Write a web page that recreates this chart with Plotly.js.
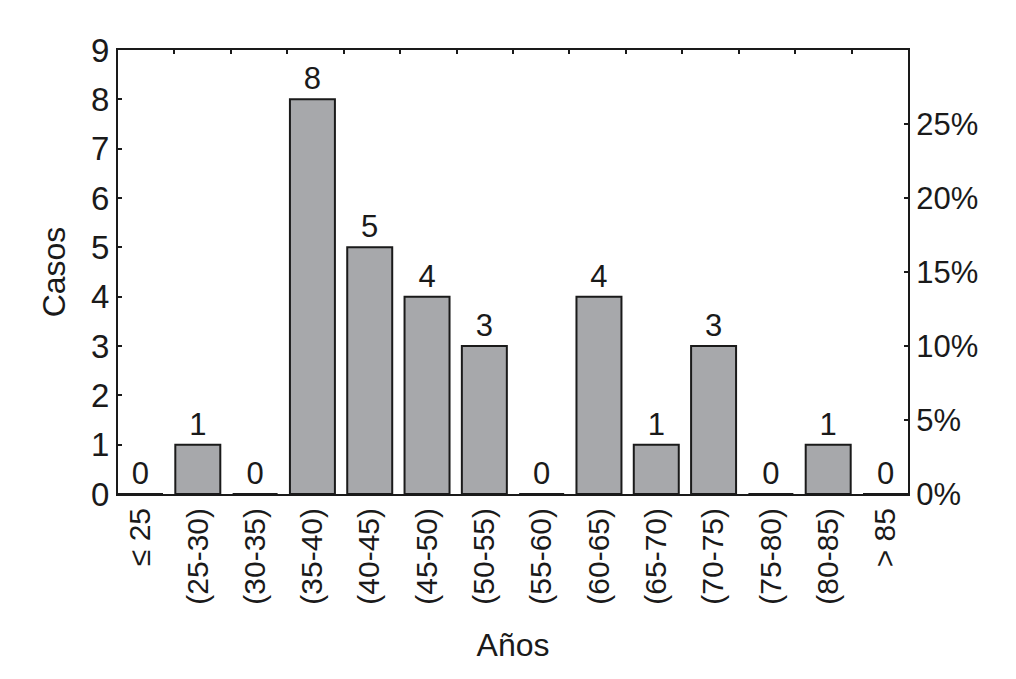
<!DOCTYPE html>
<html>
<head>
<meta charset="utf-8">
<script src="https://cdn.plot.ly/plotly-3.0.1.min.js"></script>
<style>
  html, body { margin: 0; padding: 0; background: #fff; }
  #chart { width: 1016px; height: 679px; }
</style>
</head>
<body>
<div id="chart"></div>
<script>
const AGE_GROUPS = ["≤ 25", "(25-30)", "(30-35)", "(35-40)", "(40-45)", "(45-50)", "(50-55)",
                    "(55-60)", "(60-65)", "(65-70)", "(70-75)", "(75-80)", "(80-85)", "> 85"];
const CASES = [0, 1, 0, 8, 5, 4, 3, 0, 4, 1, 3, 0, 1, 0];
const PCT_TICKS = [0, 5, 10, 15, 20, 25];

const total = CASES.reduce((a, b) => a + b, 0);
const pct = CASES.map(v => v / total * 100);

const FONT = "Liberation Sans, Arial, sans-serif";
const INK = "#1a1a1a";

// bars touch the frame at both ends, so the category range is trimmed by half a gap
const GAP = 0.215;
const n = AGE_GROUPS.length;

const traces = [
  {
    type: 'bar',
    x: AGE_GROUPS,
    y: CASES,
    text: CASES.map(String),
    textposition: 'outside',
    cliponaxis: false,
    textfont: { family: FONT, size: 31, color: INK },
    marker: { color: '#a7a8ab', line: { color: INK, width: 2 } },
    hoverinfo: 'x+y'
  },
  // invisible companion trace that carries the percent axis and the top frame
  {
    type: 'scatter',
    mode: 'markers',
    x: AGE_GROUPS,
    y: pct,
    xaxis: 'x2',
    yaxis: 'y2',
    marker: { opacity: 0 },
    hoverinfo: 'skip',
    showlegend: false
  }
];

const layout = {
  width: 1016,
  height: 679,
  margin: { t: 50, r: 108, b: 185, l: 118 },
  paper_bgcolor: '#fff',
  plot_bgcolor: '#fff',
  showlegend: false,
  bargap: GAP,
  font: { family: FONT, color: INK },
  xaxis: {
    type: 'category',
    range: [-0.5 + GAP / 2, n - 0.5 - GAP / 2],
    tickangle: -90,
    ticks: '',
    showline: true,
    linecolor: INK,
    linewidth: 2,
    showgrid: false,
    zeroline: false,
    tickfont: { size: 30, family: FONT, color: INK },
    title: { text: 'Años', font: { size: 32, family: FONT, color: INK }, standoff: 30 },
    automargin: false
  },
  xaxis2: {
    type: 'category',
    overlaying: 'x',
    side: 'top',
    range: [-0.5, n - 0.5],
    tickson: 'boundaries',
    ticks: 'inside',
    ticklen: 4,
    tickwidth: 1.5,
    tickcolor: INK,
    showticklabels: false,
    showline: true,
    linecolor: INK,
    linewidth: 2,
    showgrid: false,
    zeroline: false
  },
  yaxis: {
    range: [0, 9],
    dtick: 1,
    ticks: 'inside',
    ticklen: 4,
    tickwidth: 1.5,
    tickcolor: INK,
    showline: true,
    linecolor: INK,
    linewidth: 2,
    showgrid: false,
    zeroline: false,
    tickfont: { size: 33, family: FONT, color: INK },
    title: { text: 'Casos', font: { size: 32, family: FONT, color: INK }, standoff: 16 },
    automargin: false
  },
  yaxis2: {
    overlaying: 'y',
    side: 'right',
    range: [0, 9 / total * 100],
    tickvals: PCT_TICKS,
    ticktext: PCT_TICKS.map(v => v + '%'),
    ticks: 'inside',
    ticklen: 4,
    tickwidth: 1.5,
    tickcolor: INK,
    showline: true,
    linecolor: INK,
    linewidth: 2,
    showgrid: false,
    zeroline: false,
    tickfont: { size: 31, family: FONT, color: INK },
    automargin: false
  }
};

Plotly.newPlot('chart', traces, layout, { displayModeBar: false, responsive: false });
</script>
</body>
</html>
